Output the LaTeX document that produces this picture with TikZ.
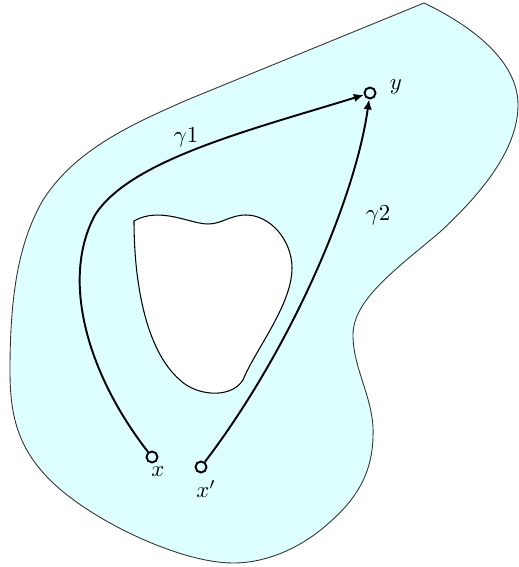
\documentclass[tikz,border=0pt]{standalone}
\usepackage{amsmath}
\usepackage{amssymb}
\usetikzlibrary{arrows.meta,positioning}
\definecolor{regioncyan}{RGB}{222,255,255}

\begin{document}
\begin{tikzpicture}[x=0.02cm, y=-0.02cm, >={Latex[length=2mm,width=1.7mm]},
  pt/.style={circle, draw, line width=1.1pt, fill=regioncyan, inner sep=0pt, minimum size=0.22cm},
  curve/.style={->, line width=1.1pt},
  lab/.style={scale=1.3}]
\path[use as bounding box] (0,0) rectangle (518,567);
% region
\draw[fill=regioncyan, line width=0.5pt, draw=black!80] (424,3)
  .. controls (470,25) and (518,60) .. (518,105)
  .. controls (518,150) and (480,195) .. (440,232)
  .. controls (395,270) and (353,300) .. (353,335)
  .. controls (353,370) and (375,400) .. (373,437)
  .. controls (372,475) and (355,500) .. (330,522)
  .. controls (305,545) and (270,563) .. (233,563)
  .. controls (180,563) and (90,520) .. (50,480)
  .. controls (15,445) and (10,410) .. (10,370)
  .. controls (10,290) and (20,240) .. (43,200)
  .. controls (75,150) and (130,125) .. (187,100) -- cycle;
% hole
\draw[fill=white, line width=0.6pt] (134,221)
  .. controls (160,206) and (190,224) .. (208,224)
  .. controls (222,224) and (230,215) .. (246,215)
  .. controls (270,215) and (292,240) .. (292,268)
  .. controls (292,305) and (255,350) .. (243,380)
  .. controls (230,400) and (195,395) .. (180,380)
  .. controls (145,350) and (134,280) .. cycle;
% points
\node[pt] (x) at (152,457) {};
\node[pt] (xp) at (201,467) {};
\node[pt] (y) at (370,93) {};
\node[lab] (xlab) at (158,472) {$x$};
\node[lab] (xplab) at (206,489) {$x'$};
\node[lab] (ylab) at (396,87) {$y$};
% paths
\draw[curve] (x) .. controls (88,375) and (60,280) .. (95,215)
  .. controls (130,160) and (250,130) .. (y);
\draw[curve] (xp) .. controls (290,350) and (355,200) .. (y);
\node[lab] (g1) at (186,137) {$\gamma1$};
\node[lab] (g2) at (378,215) {$\gamma2$};
\end{tikzpicture}
\end{document}
